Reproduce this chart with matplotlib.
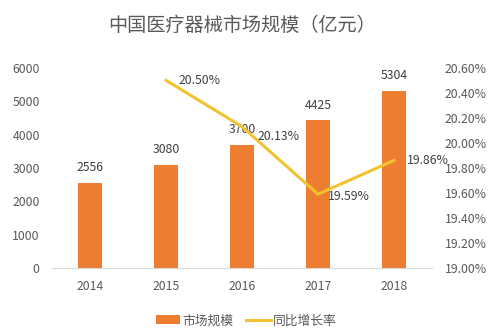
import matplotlib
matplotlib.use('Agg')

import matplotlib.pyplot as plt
import numpy as np
from matplotlib.ticker import FuncFormatter

plt.rcParams['font.family'] = ['Noto Sans CJK SC', 'DejaVu Sans']

years = ['2014', '2015', '2016', '2017', '2018']
market_size = [2556, 3080, 3700, 4425, 5304]
growth_years = ['2015', '2016', '2017', '2018']
growth_rate = [20.50, 20.13, 19.59, 19.86]

bar_color = '#ED7D31'
line_color = '#F2C330'
text_color = '#595959'

fig = plt.figure(figsize=(4.88, 3.28), dpi=100)
ax1 = fig.add_axes([0.107, 0.183, 0.778, 0.61])
ax2 = ax1.twinx()

x = np.arange(len(years))
bars = ax1.bar(x, market_size, width=0.32, color=bar_color, label='市场规模')
for xi, v in zip(x, market_size):
    ax1.annotate(str(v), (xi, v), xytext=(0, 11), textcoords='offset points',
                 ha='center', va='center', fontsize=8.8, color='#404040')

gx = [years.index(y) for y in growth_years]
line, = ax2.plot(gx, growth_rate, color=line_color, lw=2.2, label='同比增长率')
# data labels sit to the right of each point
offsets = [(9, 0), (11, -7), (7, -2), (9, 0)]
for xi, v, (dx, dy) in zip(gx, growth_rate, offsets):
    ax2.annotate('%.2f%%' % v, (xi, v), xytext=(dx, dy),
                 textcoords='offset points', ha='left', va='center',
                 fontsize=8.8, color='#404040')

ax1.set_xlim(-0.5, len(years) - 0.5)
ax1.set_ylim(0, 6000)
ax1.set_yticks(np.arange(0, 6001, 1000))
ax2.set_ylim(19.0, 20.6)
ax2.set_yticks(np.arange(19.0, 20.61, 0.2))
ax2.yaxis.set_major_formatter(FuncFormatter(lambda v, p: '%.2f%%' % v))

ax1.set_xticks(x)
ax1.set_xticklabels(years)

for ax in (ax1, ax2):
    for s in ax.spines.values():
        s.set_visible(False)
    ax.tick_params(length=0, labelsize=8.8, colors=text_color)
ax1.spines['bottom'].set_visible(True)
ax1.spines['bottom'].set_color('#D9D9D9')
ax1.tick_params(axis='y', pad=9)
ax1.tick_params(axis='x', pad=9)
ax2.tick_params(axis='y', pad=9)

fig.text(0.497, 0.923, '中国医疗器械市场规模（亿元）', ha='center', va='center',
         fontsize=13.8, color=text_color)

fig.legend(handles=[bars, line], loc='center', bbox_to_anchor=(0.505, 0.022),
           ncol=2, frameon=False, fontsize=9.2, handlelength=1.9,
           columnspacing=1.0, handletextpad=0.2, labelcolor=text_color)

fig.savefig('out.png', dpi=100)
